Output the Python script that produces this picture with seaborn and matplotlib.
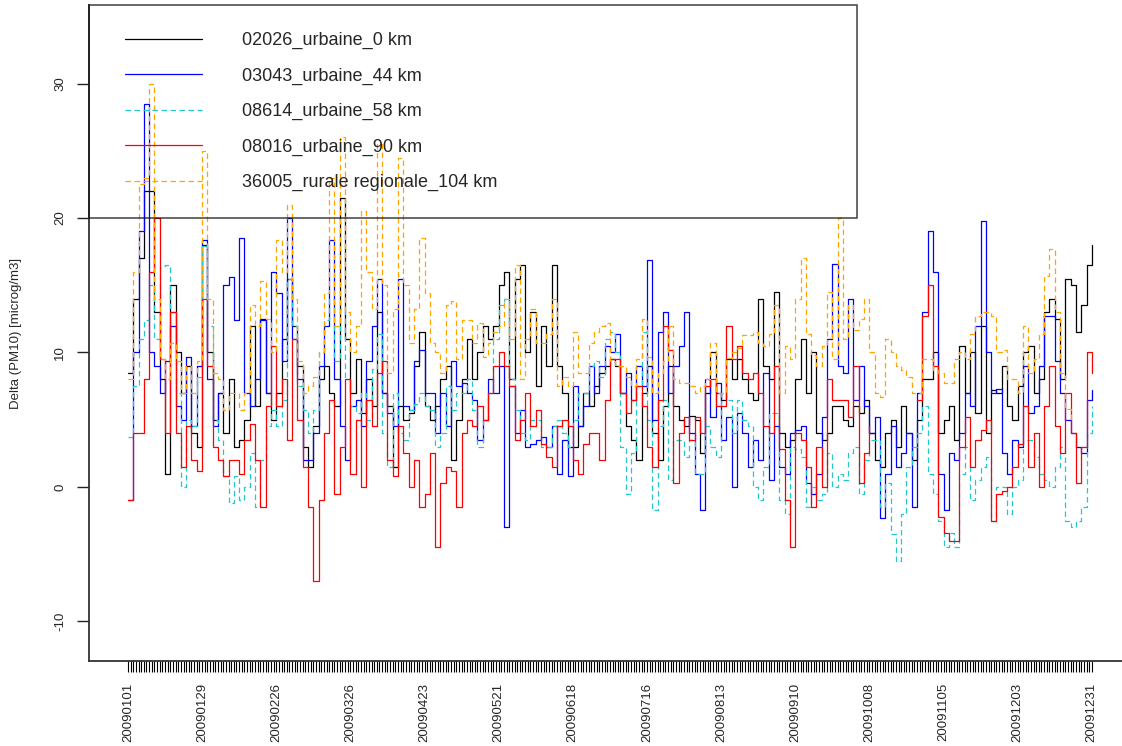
import numpy as np
import pandas as pd
import matplotlib
matplotlib.use("Agg")
import matplotlib.pyplot as plt
import seaborn as sns
from matplotlib.lines import Line2D
from matplotlib.legend_handler import HandlerLine2D

nan = np.nan

# ---------------- data (values read every 2 days, 2009-01-01 .. 2009-12-31) ----------------
dates = pd.date_range("2009-01-01", "2009-12-31", freq="2D")

s02026 = [
    8.5, 14, 17, 22, 22, 13, 8, 1, 15, 10, 7, 9, 4, 3,
    18, 10, 5, 7, 4, 8, 3, 3.5, 5, 12, 6, 12.5, 7, 5,
    7, 11, 15.5, 12, 9, 3, 1.5, 4.5, 8, 9, 7, 6, 21.5, 11,
    7, 9.5, 5.5, 8, 6, 13, 7, 6, 1.5, 6, 5, 5.5, 9, 11.5,
    6, 5, 6, 8, 9, 2, 5, 8, 11, 8, 10, 12, 11, 12,
    15, 16, 8, 15.5, 16.5, 10, 13, 7.5, 12, 9, 16.5, 9, 7, 3,
    3, 4.5, 7, 6, 7.5, 8.5, 9, 9.5, 9, 7, 4.5, 3.5, 2, 7,
    9, 4, 2, 6, 9, 6, 5, 4.5, 5.3, 5, 2.5, 7, 10, 7,
    6.5, 9.5, 8, 9.5, 8, 7, 6.5, 14, 9, 8, 14.5, 4, 3, 3.5,
    8, 11, 7, 10, 4, 3.5, 4, 6, 6, 5, 4.5, 6, 5.5, 6.5,
    4, 2, 1.5, 4, 5, 3, 6, 4, 2, 5, 8, 8, 10, 4,
    5, 6, 3.5, 10.5, 7, 10, 5.5, 12, 4, 7.2, 7, 9, 6, 5,
    7.5, 10, 10.5, 7, 8, 13, 14, 12.5, 8, 15.5, 15, 11.5, 13.5, 16.5,
    18]

s03043 = [
    -1, 10, 19, 28.5, 10, 9, 7, 9.4, 12, 6, 5, 9.7, 4.5, 9,
    18.4, 8, 4.5, 7, 15, 15.6, 12.4, 18.5, 7, 6, 8, 12.4, 7, 16,
    14.4, 9.4, 20, 11, 8, 2, 2, 4, 9, 12, 18.4, 8, 4.5, 2,
    6, 6.5, 4.5, 9.4, 12, 15.5, 7, 5.5, 4.5, 15.5, 6, 5.7, 9.4, 10.2,
    7, 7, 4, 7, 4.5, 9.4, 7.5, 7.7, 7, 6.5, 3.5, 5, 8, 7,
    9, -3, 7.5, 4, 5.7, 3, 3.2, 3.5, 3.7, 3, 4.5, 1, 3.5, 0.8,
    7.5, 4.5, 6, 9, 7, 9, 10.5, 10, 11.4, 7, 8.5, 6.5, 9, 7.5,
    16.9, 5, 11.5, 13, 7, 9, 10.5, 13, 4, 1, -1.7, 8, 5.2, 7.7,
    3.5, 5.2, 0, 5.5, 4, 1.5, 3.5, 2, 8.5, 0.5, 4.5, 1.5, 1, 4,
    4.2, 4.5, 0.3, -0.5, 1, 5.2, 11, 16.6, 9, 8.5, 14, 6.5, 9, 6,
    4, 5.2, -2.3, 1, 4.5, 1.5, 2.5, 4, -1.5, 7, 13, 19, 16, 1,
    -1.7, 2.5, 2, 4, 7, 6, 12, 19.8, 10, 7, 7.3, 2.5, 1, 3.5,
    3, 9, 5.5, 6, 9, 12.7, 12.7, 9.4, 7, 5, 4, 3, 2.5, 6.5,
    7.2]

s08614 = [
    3.7, 7.5, 11, 12.4, 15, 11, 16.4, 16.5, 13, 7, 0, 5, 4.5, 8.2,
    17.9, 12, 5, 3.5, 0.8, -1.2, 0.8, -1, 0, 2.5, -1.5, 2, 4.5, 5.7,
    4.5, 6.5, 15.5, 12, 7.5, 5.7, 4, 5.7, 10, 12.4, 14, 9.4, 13.2, 8,
    6, 5.5, 7, 5, 8.8, 11.4, 4, 1.5, 7, 4, 3.5, 5.7, 6.2, 7,
    6, 5.7, 3, 4, 7.5, 5.7, 7, 7, 8, 5.7, 3, 5, 7, 11,
    13.5, 14, 8, 5.7, 4, 3.5, 5, 5, 3, 3, 4.5, 5, 4, 3,
    5, 7, 7, 9, 9.4, 8.2, 11, 11.5, 10, 3, -0.5, 2.5, 7.5, 11.5,
    5, -1.7, 4.5, 6.5, 0.5, 3.5, 3.5, 2.2, 3.5, 1, 1, 4.5, 3, 2.2,
    7, 6.5, 4, 6.5, 5, 4.5, 0, -1, 1.5, 5.5, 5.5, -1, -2, 3,
    2.8, 2.2, -1.5, 0, -1, -0.5, 2.5, 0, 1, 0.5, 2.5, 3, -0.5, 2,
    3.5, 3.5, -1.5, 0.3, -3.5, -5.5, -2, 1.5, 3, 4, 6, 1, -0.5, -2.5,
    -4.5, -3.4, -4.5, 1, 3, -1, 0.5, 1.5, 2.2, -2.5, 0, 0, -2, 0,
    0.5, 3.5, 3.5, 2.2, 1, 0.5, 0, 1.5, 3, -2.5, -3, -2.5, -1.5, 4,
    6]

s08016 = [
    -1, 4, 4, 8, 16, 20, 9.5, 4, 13, 4, 1.5, 4.5, 2, 1.2,
    14, 9, 3, 2, 0.8, 2, 2, 1, 3.5, 4.7, 2, -1.5, 6, 10.5,
    6, 8, 3.5, 11, 5, 1.5, -1.5, -7, -1, 4, 6.5, -0.5, 3, 8,
    1, 5, 0, 6.5, 4.5, 8.5, 9.4, 2, 0.8, 4.5, 2.5, 0, 2, -1.5,
    -0.5, 2.5, -4.5, 0.3, 1.5, 1.2, -1.5, 4, 5, 4.5, 6, 5, 7, 9,
    10, 9, 7.5, 3.5, 5, 7, 4.5, 5.7, 3.2, 2.2, 1.5, 4.5, 5, 4.5,
    2, 1, 3.2, 4, 4, 2, 6.5, 9.5, 9.5, 7, 5.5, 6.5, 7.5, 6,
    3, 1.5, 6.5, 12, 10.2, 0.3, 4, 5.2, 3.5, 5.2, 4, 7.5, 8, 6,
    6, 12, 9.5, 10.5, 8.5, 8, 8.5, 7, 4.5, 4, 9, 2.8, -1, -4.5,
    4, 3.5, 1.5, -1.5, 3, 0, 8, 6.5, 6.5, 6.5, 5.2, 9, 0.3, 2.5,
    4.5, nan, nan, nan, nan, nan, nan, nan, nan, 6.5, 12.7, 15, 9, -2.2,
    -3.4, -4, -4, 3, 5.2, 1.5, 3.5, 4.2, 5, -2.5, -0.5, -0.3, 0, 1.5,
    3.2, 6, 1.5, 4, 0, 6, 9, 4.5, 2.5, 7, 4, 0.3, 3, 10,
    8.5]

s36005 = [
    8, 16, 22.5, 23, 30, 14, 9.5, 8, 10.7, 9.4, 7, 9, 7, 9.4,
    25, 14, 8.5, 8, 5.7, 7, 7, 5.7, 7, 13.5, 12, 15.3, 12.5, 10,
    18.4, 16, 21, 14, 9.4, 7, 7.5, 8.2, 10, 14.4, 23, 12, 26, 13,
    10, 12, 20.5, 16, 13.2, 25.5, 15, 8.5, 13.2, 24.5, 15, 10.7, 13.2, 18.5,
    14.4, 10.7, 10, 8.5, 13.5, 13.8, 9.5, 12.4, 12.4, 10.7, 12.2, 9.7, 10.7, 11.5,
    12, 14, 11, 16.5, 8, 11, 13.2, 10.7, 10.7, 11.4, 14, 7.5, 8.2, 7.5,
    11.5, 8.5, 8.5, 10.7, 11.5, 12, 12.2, 9.4, 9, 9, 8.2, 7.5, 9.5, 12.5,
    9.7, 7, 8.5, 9.4, 12, 8, 7.7, 7.7, 7.5, 7, 7.5, 8, 10.7, 7,
    7, 9.6, 10, 10.3, 11.3, 11.3, 11.5, 10.7, 10.5, 11.4, 13.5, 7, 10.5, 9.5,
    14, 17, 11.4, 9.8, 9, 10.5, 14.5, 9.5, 20, 11, 13.5, 11.7, 12.5, 14,
    10, 7, 6.7, 11, 10, 9, 8.7, 8.2, 7, 7, 9.5, 9.5, 8.7, 8.5,
    7.7, 7.7, 9.5, 10, 9.5, 11.4, 12.7, 13, 13, 12.7, 10, 10.2, 8, 8,
    7, 12, 8.5, 9.5, 11.4, 15.7, 17.7, 13, 8.5, 5.8, 5, nan, nan, nan,
    nan]

series_labels = ["02026_urbaine_0 km", "03043_urbaine_44 km", "08614_urbaine_58 km",
                 "08016_urbaine_90 km", "36005_rurale regionale_104 km"]
series_values = [s02026, s03043, s08614, s08016, s36005]
series_colors = ["#000000", "#0000FF", "#22C8CC", "#FF0000", "#FFA500"]
dash = (0, (4.4, 2.8))
series_styles = ["-", "-", dash, "-", dash]

ylabel_text = "Delta (PM10) [microg/m3]"
yticks_vals = [-10, 0, 10, 20, 30]

# ---------------- figure ----------------
sns.set_theme(style="white")
plt.rcParams["font.family"] = ["Liberation Sans", "DejaVu Sans"]

W, H = 1122, 746
fig = plt.figure(figsize=(W / 100, H / 100), dpi=100)
ax = fig.add_axes([89 / W, (H - 661) / H, (W - 89) / W, (661 - 5) / H])
ax.set_facecolor("white")

LW = 0.9
for vals, col, ls in zip(series_values, series_colors, series_styles):
    df = pd.DataFrame({"date": dates, "val": vals})
    df["seg"] = df["val"].isna().cumsum()
    df = df.dropna()
    sns.lineplot(data=df, x="date", y="val", units="seg", estimator=None,
                 color=col, linestyle=ls, linewidth=LW, drawstyle="steps-post",
                 sort=False, legend=False, ax=ax)

start = pd.Timestamp("2009-01-01")
all_days = pd.date_range("2009-01-01", "2009-12-31", freq="D")
ax.set_xlim(start - pd.Timedelta(days=14.7), start + pd.Timedelta(days=375.4))
ax.set_ylim(-12.94, 35.84)

ax.set_xticks(all_days)
ax.set_xticklabels([d.strftime("%Y%m%d") if i % 28 == 0 else "" for i, d in enumerate(all_days)])
ax.set_yticks(yticks_vals)
ax.set_yticklabels([str(v) for v in yticks_vals])

ax.tick_params(axis="x", bottom=True, length=8, width=0.8, pad=8, labelsize=9.5,
               labelrotation=90, color="#000000", direction="out")
ax.tick_params(axis="y", left=True, length=8.5, width=1.0, pad=8, labelsize=9.5,
               labelrotation=90, color="#222222", direction="out")
for lab in ax.get_yticklabels():
    lab.set_va("center")

for s in ["top", "right"]:
    ax.spines[s].set_visible(False)
for s in ["left", "bottom"]:
    ax.spines[s].set_color("#333333")
    ax.spines[s].set_linewidth(1.3)

ax.set_xlabel("")
ax.set_ylabel(ylabel_text, fontsize=9.5)
ax.yaxis.set_label_coords((22 - 89) / (W - 89), 0.5)

# legend
fs = 13
fpx = fs * 100 / 72
handles = [Line2D([], [], color=c, linestyle=ls, linewidth=LW)
           for c, ls in zip(series_colors, series_styles)]
leg = ax.legend(handles, series_labels, loc="upper left",
                bbox_to_anchor=(0, 0, (857 - 89) / (W - 89), 1), mode="expand",
                borderaxespad=0, fontsize=fs, frameon=True, fancybox=False,
                handlelength=86 / fpx, handletextpad=40 / fpx, borderpad=27 / fpx,
                labelspacing=1.013,
                handler_map={Line2D: HandlerLine2D(xpad=9 / fpx)})
frame = leg.get_frame()
frame.set_facecolor("none")
frame.set_edgecolor("#111111")
frame.set_linewidth(1.1)

fig.savefig("out.png", dpi=100)
